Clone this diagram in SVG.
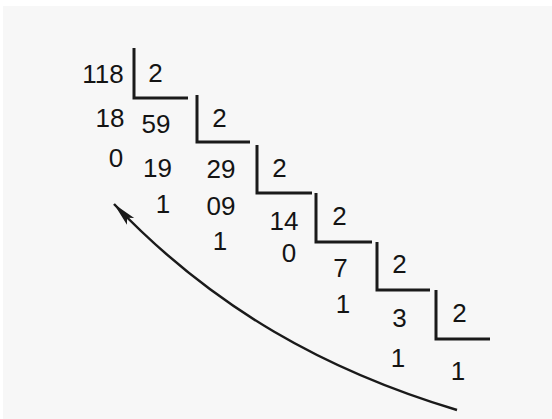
<svg xmlns="http://www.w3.org/2000/svg" width="552" height="419" viewBox="0 0 552 419">
  <style>
    text { font-family: "Liberation Sans", Arial, sans-serif; font-size: 26px; fill: #141414; text-anchor: middle; }
    .br { fill: none; stroke: #1a1a1a; stroke-width: 3; }
    .arc { fill: none; stroke: #1a1a1a; stroke-width: 2.5; }
  </style>
  <defs>
    <marker id="ah" markerUnits="userSpaceOnUse" markerWidth="26" markerHeight="12" refX="24" refY="6" orient="auto" overflow="visible">
      <path d="M0,1 L24,6 L0,11 L5,6 z" fill="#1a1a1a"/>
    </marker>
  </defs>
  <rect x="0" y="0" width="552" height="419" fill="#ffffff"/>
  <rect x="3" y="6" width="549" height="413" fill="#f7f7f7"/>

  <g id="step1">
    <path class="br" d="M134,48 V98 H188"/>
    <text x="103" y="83">118</text>
    <text x="155.5" y="82">2</text>
    <text x="110" y="127">18</text>
    <text x="116" y="167">0</text>
  </g>
  <g id="step2">
    <path class="br" d="M197,95 V142 H250"/>
    <text x="156" y="133">59</text>
    <text x="219.5" y="127">2</text>
    <text x="157.5" y="177">19</text>
    <text x="163" y="213">1</text>
  </g>
  <g id="step3">
    <path class="br" d="M257,145 V193 H312"/>
    <text x="221" y="178">29</text>
    <text x="279.5" y="177">2</text>
    <text x="221" y="215">09</text>
    <text x="220" y="250">1</text>
  </g>
  <g id="step4">
    <path class="br" d="M316,193 V242 H372"/>
    <text x="284" y="230">14</text>
    <text x="339.5" y="225">2</text>
    <text x="289" y="262">0</text>
  </g>
  <g id="step5">
    <path class="br" d="M377,242 V290 H430"/>
    <text x="340.5" y="277">7</text>
    <text x="399.5" y="273">2</text>
    <text x="343" y="313">1</text>
  </g>
  <g id="step6">
    <path class="br" d="M436,290 V339 H490"/>
    <text x="399.5" y="327">3</text>
    <text x="459.5" y="322">2</text>
    <text x="398" y="367">1</text>
  </g>
  <g id="result">
    <text x="458" y="380">1</text>
  </g>

  <g id="connectors">
    <path class="arc" d="M457,410 C327,371 214,309 114,204" marker-end="url(#ah)"/>
  </g>
</svg>
